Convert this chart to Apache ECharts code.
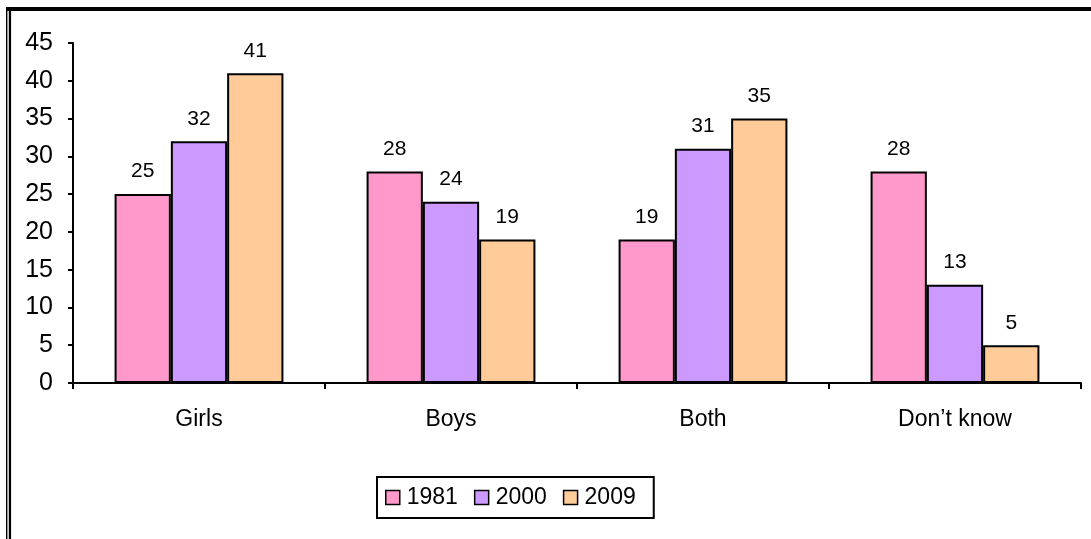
<!DOCTYPE html>
<html>
<head>
<meta charset="utf-8">
<style>
html,body{margin:0;padding:0;background:#fff;}
#chart{width:1091px;height:539px;}
</style>
<script src="https://cdn.jsdelivr.net/npm/echarts@6/dist/echarts.min.js"></script>
</head>
<body>
<div id="chart"></div>
<script>
const categories = ['Girls', 'Boys', 'Both', 'Don\u2019t know'];
const years = ['1981', '2000', '2009'];
const values1981 = [25, 28, 19, 28];
const values2000 = [32, 24, 31, 13];
const values2009 = [41, 19, 35, 5];
const yTicks = { min: 0, max: 45, interval: 5 };

const colors = ['#FF99CC', '#CC99FF', '#FFCC99'];
const FONT = '"Liberation Sans", Arial, sans-serif';

const chart = echarts.init(document.getElementById('chart'), null, { renderer: 'canvas' });

function mkSeries(name, data, color) {
  return {
    name: name,
    type: 'bar',
    data: data,
    barGap: '0%',
    barCategoryGap: '33%',
    itemStyle: { color: color, borderColor: '#000', borderWidth: 2 },
    label: {
      show: true, position: 'top', distance: 12,
      color: '#000', fontSize: 21, fontFamily: FONT
    },
    emphasis: { disabled: true },
    animation: false
  };
}

chart.setOption({
  animation: false,
  backgroundColor: '#fff',
  textStyle: { fontFamily: FONT },
  grid: { left: 73, right: 10, top: 43, bottom: 156, containLabel: false },
  legend: {
    data: years,
    left: 377, top: 477,
    orient: 'horizontal',
    icon: 'rect',
    itemWidth: 14, itemHeight: 14,
    itemGap: 16,
    padding: [9, 18, 9, 8],
    borderColor: '#000', borderWidth: 2,
    itemStyle: { borderColor: '#000', borderWidth: 1.5 },
    textStyle: { fontSize: 23, color: '#000', fontFamily: FONT, padding: [0, 0, 0, 2] },
    selectedMode: false
  },
  xAxis: {
    type: 'category',
    data: categories,
    axisLine: { lineStyle: { color: '#000', width: 2 } },
    axisTick: { show: true, length: 6, lineStyle: { color: '#000', width: 2 } },
    axisLabel: { color: '#000', fontSize: 23, margin: 25, fontFamily: FONT }
  },
  yAxis: {
    type: 'value',
    min: yTicks.min, max: yTicks.max, interval: yTicks.interval,
    axisLine: { show: true, lineStyle: { color: '#000', width: 2 } },
    axisTick: { show: true, length: 5, lineStyle: { color: '#000', width: 2 } },
    splitLine: { show: false },
    axisLabel: { color: '#000', fontSize: 25, margin: 20, fontFamily: FONT }
  },
  series: [
    mkSeries(years[0], values1981, colors[0]),
    mkSeries(years[1], values2000, colors[1]),
    mkSeries(years[2], values2009, colors[2])
  ],
  graphic: [
    { type: 'rect', shape: { x: 6, y: 7, width: 1085, height: 4 }, style: { fill: '#000' }, silent: true },
    { type: 'rect', shape: { x: 6, y: 7, width: 1.4, height: 532 }, style: { fill: '#000' }, silent: true },
    { type: 'rect', shape: { x: 8.8, y: 7, width: 2.3, height: 532 }, style: { fill: '#000' }, silent: true }
  ]
});
</script>
</body>
</html>
